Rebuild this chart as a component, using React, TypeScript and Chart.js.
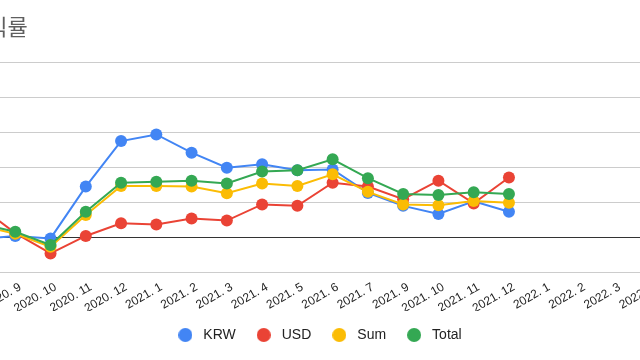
import { useEffect, useRef } from 'react';
import { Chart, registerables } from 'chart.js';

Chart.register(...registerables);

const titleText = '수익률';

const categories = [
  '2020. 8', '2020. 9', '2020. 10', '2020. 11', '2020. 12',
  '2021. 1', '2021. 2', '2021. 3', '2021. 4', '2021. 5', '2021. 6', '2021. 7',
  '2021. 9', '2021. 10', '2021. 11', '2021. 12',
  '2022. 1', '2022. 2', '2022. 3', '2022. 4',
];

const krw = [-0.6, 0.3, -0.4, 14.4, 27.4, 29.3, 24.1, 19.8, 20.8, 19.1, 19.3, 12.6, 8.9, 6.6, 10.2, 7.2, null, null, null, null];
const usd = [8.7, 1.1, -4.7, 0.3, 3.9, 3.6, 5.3, 4.7, 9.3, 8.9, 15.5, 14.4, 10.8, 16.1, 9.6, 17.0, null, null, null, null];
const sum = [3.3, 0.9, -2.8, 6.3, 14.6, 14.6, 14.4, 12.5, 15.3, 14.6, 17.9, 12.9, 9.3, 9.1, 10.3, 9.8, null, null, null, null];
const total = [3.8, 1.5, -2.3, 7.2, 15.5, 15.8, 16.1, 15.3, 18.7, 19.1, 22.2, 16.8, 12.3, 12.0, 12.8, 12.3, null, null, null, null];

const seriesNames = ['KRW', 'USD', 'Sum', 'Total'];
const seriesValues = [krw, usd, sum, total];
const seriesColors = ['#4285F4', '#EA4335', '#FBBC04', '#34A853'];

const yMin = -10;
const yMax = 50;
const yStep = 10;

const FONT = '"Liberation Sans", Arial, sans-serif';

function makeDot(color: string) {
  const c = document.createElement('canvas');
  c.width = 14;
  c.height = 14;
  const g = c.getContext('2d')!;
  g.fillStyle = color;
  g.beginPath();
  g.arc(7, 7, 7, 0, Math.PI * 2);
  g.fill();
  return c;
}

const titlePlugin = {
  id: 'leftTitle',
  afterDraw(chart: any) {
    const ctx = chart.ctx;
    ctx.save();
    ctx.font = '22px "Noto Sans CJK KR", "Noto Sans", sans-serif';
    ctx.fillStyle = '#5f5f5f';
    ctx.textBaseline = 'middle';
    ctx.textAlign = 'left';
    ctx.fillText(titleText, 67, 27);
    ctx.restore();
  },
};

export default function App() {
  const ref = useRef<HTMLCanvasElement>(null);

  useEffect(() => {
    const dots = seriesColors.map(makeDot);
    const chart = new Chart(ref.current!, {
      type: 'line',
      data: {
        labels: categories,
        datasets: seriesNames.map((name, i) => ({
          label: name,
          data: seriesValues[i],
          borderColor: seriesColors[i],
          backgroundColor: seriesColors[i],
          pointBackgroundColor: seriesColors[i],
          pointBorderColor: seriesColors[i],
          pointBorderWidth: 0,
          pointRadius: 6,
          borderWidth: 2,
          tension: 0,
          order: seriesNames.length - 1 - i,
        })),
      },
      options: {
        animation: false,
        responsive: false,
        layout: { padding: { left: 80, right: 44, top: 62, bottom: 8 } },
        plugins: {
          tooltip: { enabled: false },
          legend: {
            position: 'bottom',
            labels: {
              usePointStyle: true,
              pointStyleWidth: 22,
              boxHeight: 10,
              padding: 17,
              color: '#222',
              font: { family: FONT, size: 14 },
              sort: (a: any, b: any) => a.datasetIndex - b.datasetIndex,
              generateLabels(c: any) {
                const items = (Chart.defaults.plugins.legend.labels as any).generateLabels(c);
                return items.map((it: any) => ({ ...it, pointStyle: dots[it.datasetIndex] }));
              },
            },
          },
        },
        scales: {
          x: {
            type: 'category',
            offset: false,
            grid: { display: false },
            border: { display: false },
            ticks: {
              autoSkip: false,
              minRotation: 30,
              maxRotation: 30,
              padding: 0,
              labelOffset: 5,
              color: '#222',
              font: { family: FONT, size: 12 },
            },
            afterFit(s: any) {
              s.paddingLeft = 0;
              s.paddingRight = 0;
              s.height = 39;
            },
          },
          y: {
            position: 'right',
            min: yMin,
            max: yMax,
            ticks: { display: false, stepSize: yStep },
            border: { display: false },
            grid: {
              drawTicks: false,
              color: (c: any) => (c.tick && c.tick.value === 0 ? '#333' : '#cccccc'),
            },
            afterFit(s: any) {
              s.width = 6;
            },
          },
        },
      } as any,
      plugins: [titlePlugin],
    });
    return () => chart.destroy();
  }, []);

  return (
    <div style={{ position: 'fixed', left: 0, top: 0, width: 640, height: 360, overflow: 'hidden', background: '#fff' }}>
      <canvas
        ref={ref}
        width={800}
        height={360}
        style={{ position: 'absolute', left: -100, top: 0, width: 800, height: 360 }}
      />
    </div>
  );
}
